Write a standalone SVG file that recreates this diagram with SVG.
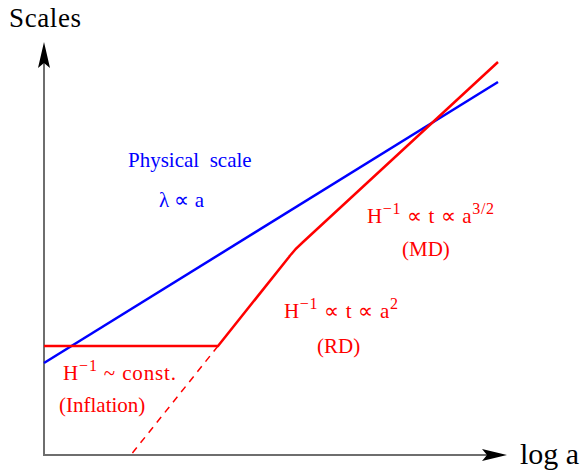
<svg xmlns="http://www.w3.org/2000/svg" width="583" height="473" viewBox="0 0 583 473">
<style>
text{font-family:"Liberation Serif","Times New Roman",serif;}
.r{fill:#ff0000;font-size:21px;}
.b{fill:#0000ff;font-size:21px;}
.s{font-size:16px;}
.ax{stroke:#6e6e6e;stroke-width:2;fill:none;}
</style>
<rect width="583" height="473" fill="#fff"/>
<g id="axes">
<line class="ax" x1="44" y1="456" x2="44" y2="60"/>
<line class="ax" x1="43" y1="455" x2="490" y2="455"/>
<path d="M44,42 L50,68 L44,63 L38,68 Z" fill="#000"/>
<path d="M507,455 L482,461 L487,455 L482,449 Z" fill="#000"/>
<text x="9" y="27" font-size="27" textLength="72" fill="#000">Scales</text>
<text x="520" y="464" font-size="30" textLength="59" fill="#000">log a</text>
</g>
<g id="connectors">
<line x1="44" y1="363" x2="498" y2="82" stroke="#0000ff" stroke-width="2.5"/>
<path d="M44,346 L218,346 L289,257 Q295,249 302,243 L498,62" stroke="#ff0000" stroke-width="2.5" fill="none"/>
<line x1="218" y1="346" x2="130" y2="456" stroke="#ff0000" stroke-width="1.5" stroke-dasharray="7,6"/>
</g>
<g id="physical">
<text class="b" x="128" y="167">Physical&#160; scale</text>
<text class="b" x="159" y="207">λ ∝ a</text>
</g>
<g id="md">
<text class="r" x="367" y="223" textLength="127">H<tspan class="s" dy="-9">−1</tspan><tspan dy="9"> ∝ t ∝ a</tspan><tspan class="s" dy="-9">3/2</tspan></text>
<text class="r" x="402" y="256">(MD)</text>
</g>
<g id="rd">
<text class="r" x="284" y="318" textLength="114">H<tspan class="s" dy="-9">−1</tspan><tspan dy="9"> ∝ t ∝ a</tspan><tspan class="s" dy="-9">2</tspan></text>
<text class="r" x="317" y="353">(RD)</text>
</g>
<g id="inflation">
<text class="r" x="63" y="380" textLength="113">H<tspan class="s" dy="-9">−1</tspan><tspan dy="9"> ~ const.</tspan></text>
<text class="r" x="59" y="412">(Inflation)</text>
</g>
</svg>
